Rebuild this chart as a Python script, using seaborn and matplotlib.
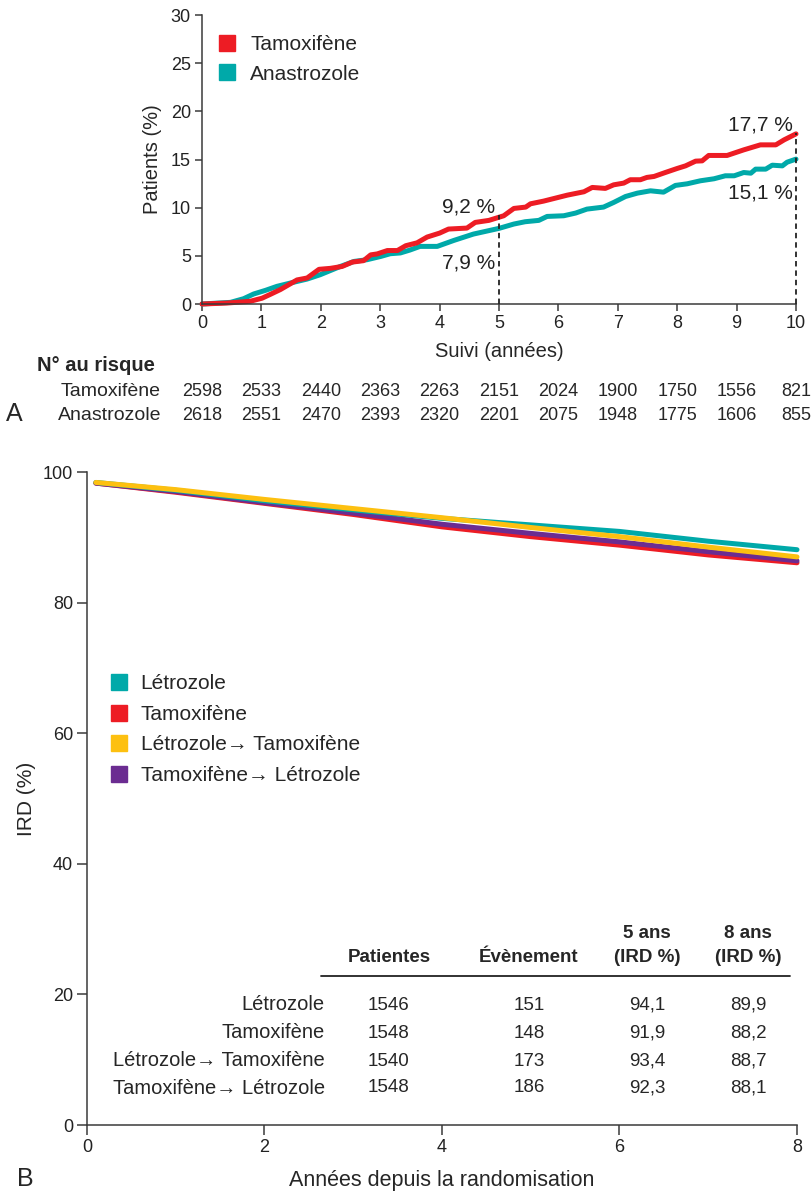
import matplotlib
matplotlib.use("Agg")
import pandas as pd
import seaborn as sns
import matplotlib.pyplot as plt
from matplotlib.lines import Line2D
from matplotlib.transforms import blended_transform_factory

# ---------------- Panel A : cumulative recurrence (Patients %)
tam_years = [0, 0.42, 0.81, 1.01, 1.15, 1.32, 1.6, 1.77, 1.97, 2.16, 2.36, 2.53, 2.72, 2.84, 2.95,
             3.12, 3.29, 3.43, 3.62, 3.79, 4.0, 4.15, 4.46, 4.6, 4.83, 5.08, 5.25, 5.45, 5.53, 5.75,
             5.95, 6.15, 6.43, 6.57, 6.79, 6.93, 7.1, 7.21, 7.38, 7.49, 7.61, 7.8, 8.0, 8.14, 8.31,
             8.42, 8.53, 8.84, 9.12, 9.4, 9.66, 9.8, 10.0]
tam_pct = [0, 0.1, 0.28, 0.6, 1.0, 1.5, 2.5, 2.7, 3.6, 3.7, 3.9, 4.35, 4.5, 5.1, 5.2,
           5.55, 5.55, 6.05, 6.35, 6.95, 7.36, 7.78, 7.88, 8.47, 8.68, 9.16, 9.92, 10.06, 10.4, 10.68,
           10.99, 11.3, 11.65, 12.1, 12.0, 12.37, 12.55, 12.9, 12.9, 13.14, 13.24, 13.65, 14.07, 14.34, 14.83,
           14.86, 15.42, 15.42, 16.0, 16.52, 16.52, 17.04, 17.66]
ana_years = [0, 0.48, 0.7, 0.87, 1.07, 1.26, 1.49, 1.77, 1.99, 2.33, 2.56, 2.78, 3.01, 3.17, 3.34,
             3.5, 3.67, 3.96, 4.24, 4.57, 5.0, 5.25, 5.44, 5.67, 5.81, 6.09, 6.29, 6.48, 6.76, 6.93,
             7.13, 7.33, 7.55, 7.77, 7.97, 8.17, 8.39, 8.62, 8.81, 8.96, 9.12, 9.24, 9.32, 9.49, 9.6,
             9.77, 9.85, 10.0]
ana_pct = [0, 0.17, 0.55, 1.04, 1.42, 1.83, 2.18, 2.59, 3.04, 3.9, 4.42, 4.6, 4.94, 5.22, 5.3,
           5.6, 5.98, 5.98, 6.6, 7.26, 7.85, 8.3, 8.54, 8.68, 9.09, 9.16, 9.44, 9.85, 10.06, 10.54,
           11.16, 11.51, 11.75, 11.61, 12.31, 12.48, 12.79, 13.0, 13.31, 13.31, 13.65, 13.58, 14.0, 14.0, 14.41,
           14.34, 14.72, 15.04]

milestone_years = [5, 10]
tam_milestones = [9.2, 17.7]
ana_milestones = [7.9, 15.1]
tam_labels = ["9,2 %", "17,7 %"]
ana_labels = ["7,9 %", "15,1 %"]

risk_years = list(range(11))
risk_tam = [2598, 2533, 2440, 2363, 2263, 2151, 2024, 1900, 1750, 1556, 821]
risk_ana = [2618, 2551, 2470, 2393, 2320, 2201, 2075, 1948, 1775, 1606, 855]

# ---------------- Panel B : IRD (%)
ird_years = [0.1, 1, 2, 3, 4, 5, 6, 7, 8]
ird_let = [98.4, 97.2, 95.6, 94.2, 92.9, 91.9, 90.9, 89.4, 88.1]
ird_tam = [98.3, 96.9, 95.2, 93.5, 91.6, 90.1, 88.8, 87.3, 86.1]
ird_let_tam = [98.4, 97.3, 95.8, 94.4, 93.0, 91.5, 90.1, 88.5, 87.0]
ird_tam_let = [98.3, 97.0, 95.3, 93.7, 92.0, 90.6, 89.3, 87.8, 86.4]

arms_b = ["Létrozole", "Tamoxifène", "Létrozole\u2192 Tamoxifène", "Tamoxifène\u2192 Létrozole"]
tbl_patients = [1546, 1548, 1540, 1548]
tbl_events = [151, 148, 173, 186]
tbl_ird5 = ["94,1", "91,9", "93,4", "92,3"]
tbl_ird8 = ["89,9", "88,2", "88,7", "88,1"]

RED = "#ed1c24"
TEAL = "#00a9a9"
YELLOW = "#fdc010"
PURPLE = "#6b2c91"
AXC = "#3a3a3a"

sns.set_style("ticks")
plt.rcParams["font.family"] = ["Liberation Sans", "DejaVu Sans"]

W, H = 812, 1192
fig = plt.figure(figsize=(W / 100, H / 100), dpi=100)


def fx(px):
    return px / W


def fy(py):
    return 1 - py / H


def style_axes(ax):
    sns.despine(ax=ax)
    for s in ["left", "bottom"]:
        ax.spines[s].set_color(AXC)
        ax.spines[s].set_linewidth(1.1)
    ax.tick_params(colors=AXC, labelcolor="#222222", length=5, width=1.1, labelsize=13, pad=3)


# ================= Panel A =================
axA = fig.add_axes([fx(202), fy(304), fx(796 - 202), (304 - 15) / H])
df_a = pd.concat([
    pd.DataFrame({"year": ana_years, "pct": ana_pct, "arm": "Anastrozole"}),
    pd.DataFrame({"year": tam_years, "pct": tam_pct, "arm": "Tamoxifène"}),
])
sns.lineplot(data=df_a, x="year", y="pct", hue="arm", hue_order=["Anastrozole", "Tamoxifène"],
             palette={"Anastrozole": TEAL, "Tamoxifène": RED}, estimator=None, sort=False,
             linewidth=3.6, ax=axA, legend=False, clip_on=False)
for yr, t in zip(milestone_years, tam_milestones):
    axA.plot([yr, yr], [0, t], color="#222222", lw=1.3, ls=(0, (3, 2.2)), zorder=5, clip_on=False)
for yr, t, a, tl, al in zip(milestone_years, tam_milestones, ana_milestones, tam_labels, ana_labels):
    axA.text(yr - 0.06, t + 0.9, tl, ha="right", va="center", fontsize=15, color="#222222")
    axA.text(yr - 0.06, a - 3.6, al, ha="right", va="center", fontsize=15, color="#222222")
axA.set_xlim(0, 10)
axA.set_ylim(0, 30)
axA.set_xticks(range(0, 11))
axA.set_yticks(range(0, 31, 5))
axA.set_xlabel("Suivi (années)", fontsize=14.5, labelpad=7)
axA.set_ylabel("Patients (%)", fontsize=14.5, labelpad=6)
style_axes(axA)

handles_a = [Line2D([], [], ls="none", marker="s", markersize=11, color=RED),
             Line2D([], [], ls="none", marker="s", markersize=11, color=TEAL)]
axA.legend(handles_a, ["Tamoxifène", "Anastrozole"], loc="upper left", bbox_to_anchor=(0.025, 0.93),
           frameon=False, fontsize=15, handlelength=1.0, handletextpad=0.6, labelspacing=0.5,
           borderpad=0, borderaxespad=0)

# risk table
tr = blended_transform_factory(axA.transData, fig.transFigure)
fig.text(fx(37), fy(365), "N° au risque", fontsize=14.5, fontweight="bold", ha="left", va="center")
fig.text(fx(161), fy(391), "Tamoxifène", fontsize=14, ha="right", va="center")
fig.text(fx(161), fy(416), "Anastrozole", fontsize=14, ha="right", va="center")
for yr, nt, na in zip(risk_years, risk_tam, risk_ana):
    axA.text(yr, fy(391), str(nt), transform=tr, fontsize=13, ha="center", va="center")
    axA.text(yr, fy(416), str(na), transform=tr, fontsize=13, ha="center", va="center")
fig.text(fx(6), fy(414), "A", fontsize=18, ha="left", va="center")

# ================= Panel B =================
axB = fig.add_axes([fx(87), fy(1125), fx(797 - 87), (1125 - 472) / H])
colors_b = {arms_b[0]: TEAL, arms_b[1]: RED, arms_b[2]: YELLOW, arms_b[3]: PURPLE}
df_b = pd.concat([
    pd.DataFrame({"year": ird_years, "ird": ird_tam, "arm": arms_b[1]}),
    pd.DataFrame({"year": ird_years, "ird": ird_tam_let, "arm": arms_b[3]}),
    pd.DataFrame({"year": ird_years, "ird": ird_let, "arm": arms_b[0]}),
    pd.DataFrame({"year": ird_years, "ird": ird_let_tam, "arm": arms_b[2]}),
])
sns.lineplot(data=df_b, x="year", y="ird", hue="arm", hue_order=[arms_b[1], arms_b[3], arms_b[0], arms_b[2]],
             palette=colors_b, estimator=None, sort=False, linewidth=3.6, ax=axB, legend=False,
             solid_capstyle="round", clip_on=False)
axB.set_xlim(0, 8)
axB.set_ylim(0, 100)
axB.set_xticks(range(0, 9, 2))
axB.set_yticks(range(0, 101, 20))
axB.set_xlabel("Années depuis la randomisation", fontsize=15.5, labelpad=10)
axB.set_ylabel("IRD (%)", fontsize=15, labelpad=5)
style_axes(axB)
axB.tick_params(length=7)

handles_b = [Line2D([], [], ls="none", marker="s", markersize=12, color=colors_b[a]) for a in arms_b]
axB.legend(handles_b, arms_b, loc="upper left", bbox_to_anchor=(0.03, 0.69), frameon=False,
           fontsize=15, handlelength=1.0, handletextpad=0.55, labelspacing=0.55,
           borderpad=0, borderaxespad=0)

# summary table
col_x = [389, 529, 647, 748]
fig.text(fx(col_x[0]), fy(957), "Patientes", fontsize=13.5, fontweight="bold", ha="center", va="center")
fig.text(fx(col_x[1]), fy(957), "Évènement", fontsize=13.5, fontweight="bold", ha="center", va="center")
for cx, yrs in zip(col_x[2:], ["5 ans", "8 ans"]):
    fig.text(fx(cx), fy(934), yrs, fontsize=13.5, fontweight="bold", ha="center", va="center")
    fig.text(fx(cx), fy(957), "(IRD %)", fontsize=13.5, fontweight="bold", ha="center", va="center")
fig.add_artist(Line2D([fx(321), fx(790)], [fy(976), fy(976)], color="#222222", lw=1.3))
row_y = [1005, 1033, 1061, 1088]
for ry, arm, p, e, i5, i8 in zip(row_y, arms_b, tbl_patients, tbl_events, tbl_ird5, tbl_ird8):
    fig.text(fx(325), fy(ry), arm, fontsize=14.5, ha="right", va="center")
    for cx, val in zip(col_x, [p, e, i5, i8]):
        fig.text(fx(cx), fy(ry), str(val), fontsize=13.5, ha="center", va="center")
fig.text(fx(17), fy(1179), "B", fontsize=18, ha="left", va="center")

fig.savefig("out.png", dpi=100)
